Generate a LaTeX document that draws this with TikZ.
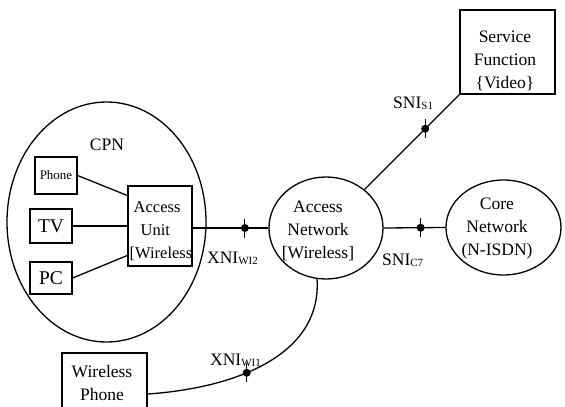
\documentclass[tikz,border=0pt]{standalone}
\usepackage{fontspec}
\setmainfont{Liberation Serif}
\usetikzlibrary{shapes.geometric,calc}
\newcommand\subsc[1]{\raisebox{-1.5pt}{\fontsize{11}{11}\selectfont #1}}
\tikzset{
 ln/.style={line width=1.3pt},
 boxn/.style={draw,line width=1.3pt,inner sep=0pt,rectangle},
 ell/.style={draw,ellipse,line width=1.3pt,inner sep=0pt},
 txt/.style={font=\fontsize{17.5}{22.7}\selectfont,inner sep=0pt,align=center},
 lab/.style={font=\fontsize{17.5}{21}\selectfont,inner sep=0pt,anchor=base west},
 ifdot/.style={circle,fill=black,inner sep=0pt,minimum size=8pt},
 tick/.style={line width=0.9pt},
}
\begin{document}
\begin{tikzpicture}[x=1pt,y=-1pt]
\path[use as bounding box, clip] (0,0) rectangle (565,407);
% CPN
\node[ell,minimum width=199pt,minimum height=240pt] (CPN) at (106.5,222) {};
\node[txt,anchor=base] (CPNt) at (107,150) {CPN};
\node[boxn,minimum width=42pt,minimum height=37pt,font=\fontsize{13}{15}\selectfont] (Ph) at (56,175.5) {Phone};
\node[boxn,minimum width=42pt,minimum height=34pt,font=\fontsize{19.5}{22}\selectfont] (TV) at (51,226) {TV};
\node[boxn,minimum width=42pt,minimum height=32pt,font=\fontsize{19.5}{22}\selectfont] (PC) at (51,278) {PC};
\node[boxn,minimum width=64pt,minimum height=80pt] (AU) at (160,226) {};
\node[txt,anchor=base west,align=left,font=\fontsize{16.5}{23}\selectfont] (AUt) at (129.5,258) {\hspace*{4pt}Access\\\hspace*{11pt}Unit\\{}{[}Wireless};
\draw[ln] (Ph.east) -- ($(AU.north west)!0.125!(AU.south west)$);
\draw[ln] (TV.east) -- (TV.east -| AU.west);
\draw[ln] (PC.east) -- ($(AU.north west)!0.8625!(AU.south west)$);
% Access network
\node[ell,minimum width=114pt,minimum height=102pt] (AN) at (326,228) {};
\node[txt,anchor=base] (ANt) at (318,258) {Access\\Network\\{}{[}Wireless]};
% Core network
\node[ell,minimum width=115pt,minimum height=95pt] (CN) at (503.5,227.5) {};
\node[txt,anchor=base] (CNt) at (497,255) {Core\\Network\\(N-ISDN)};
% Service function
\node[boxn,minimum width=95pt,minimum height=84pt] (SF) at (507.5,52) {};
\node[txt,anchor=base] (SFt) at (505,88) {Service\\Function\\\{Video\}};
% Wireless phone
\node[boxn,minimum width=85pt,minimum height=82pt] (WP) at (104.5,394) {};
\node[txt,anchor=base] (WPt) at (102,400) {Wireless\\Phone};
% connectors with interface points
\draw[ln] (AU.east |- AN.west) -- (AN.west) node[ifdot,pos=0.69] (d1) {};
\draw[ln] (AN.east) -- (CN.west) node[ifdot,pos=0.6] (d2) {};
\draw[ln] (AN) -- (SF.south west) node[ifdot,pos=0.64] (d3) {};
\draw[ln] (WP.east) .. controls +(88,-6) and +(5,76) .. (AN.260) node[ifdot,pos=0.4] (d4) {};
\foreach \d in {d1,d2,d3,d4}{
  \draw[tick] ($(\d.center)+(0,-9.5)$) -- ($(\d.center)+(0,9.5)$);
}
% labels
\node[lab] (l1) at (207,263) {XNI\subsc{WI2}};
\node[lab] (l2) at (382,265) {SNI\subsc{C7}};
\node[lab] (l3) at (393,108) {SNI\subsc{S1}};
\node[lab] (l4) at (210,365) {XNI\subsc{WI1}};
\end{tikzpicture}
\end{document}
